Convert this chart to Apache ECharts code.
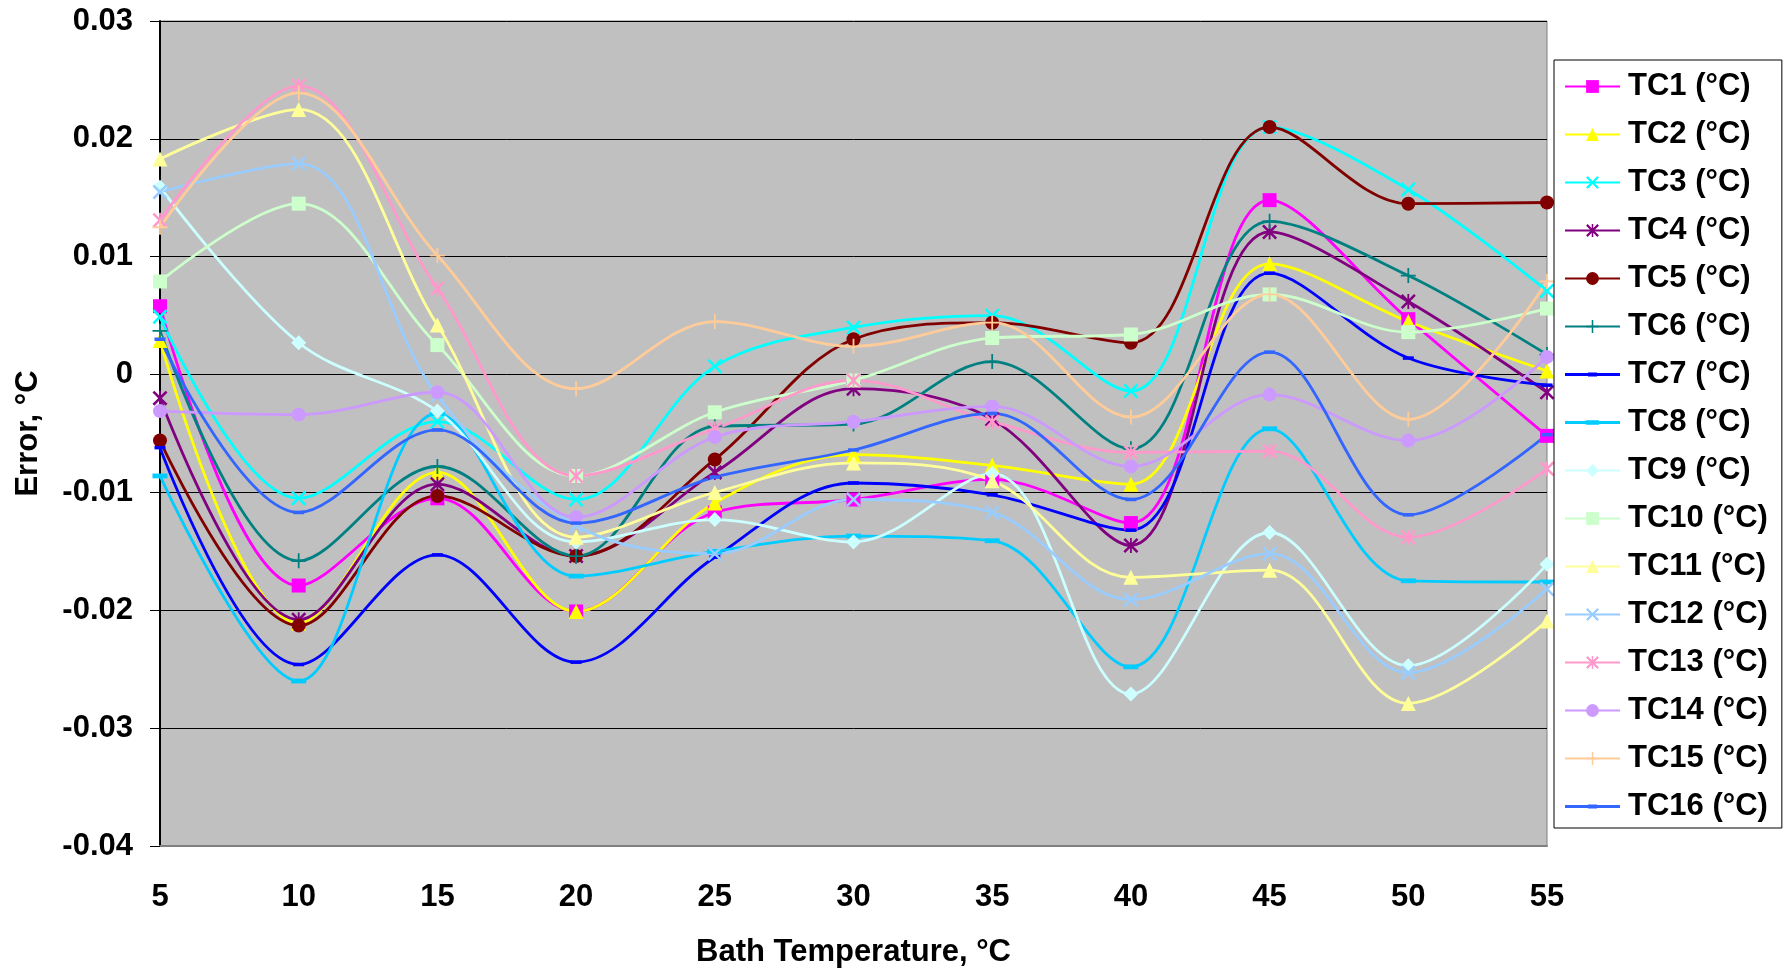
<!DOCTYPE html>
<html>
<head>
<meta charset="utf-8">
<script src="https://cdn.jsdelivr.net/npm/echarts@6/dist/echarts.min.js"></script>
<style>
html,body{margin:0;padding:0;background:#fff;}
#chart{width:1791px;height:973px;}
</style>
</head>
<body>
<div id="chart"></div>
<script>
const bathTemps = [5, 10, 15, 20, 25, 30, 35, 40, 45, 50, 55];
const seriesNames = ['TC1 (°C)','TC2 (°C)','TC3 (°C)','TC4 (°C)','TC5 (°C)','TC6 (°C)','TC7 (°C)','TC8 (°C)','TC9 (°C)','TC10 (°C)','TC11 (°C)','TC12 (°C)','TC13 (°C)','TC14 (°C)','TC15 (°C)','TC16 (°C)'];
const tc1  = [0.0058, -0.0179, -0.0105, -0.0201, -0.0117, -0.0106, -0.0089, -0.0126, 0.0148, 0.0047, -0.0052];
const tc2  = [0.0029, -0.0211, -0.0083, -0.0201, -0.0109, -0.0068, -0.0077, -0.0093, 0.0094, 0.0045, 0.0003];
const tc3  = [0.0049, -0.0105, -0.0040, -0.0106, 0.0007, 0.0040, 0.0050, -0.0014, 0.0210, 0.0157, 0.0071];
const tc4  = [-0.0020, -0.0208, -0.0093, -0.0154, -0.0083, -0.0012, -0.0038, -0.0145, 0.0121, 0.0062, -0.0015];
const tc5  = [-0.0056, -0.0213, -0.0103, -0.0154, -0.0072, 0.0030, 0.0044, 0.0027, 0.0210, 0.0145, 0.0146];
const tc6  = [0.0037, -0.0158, -0.0078, -0.0154, -0.0044, -0.0042, 0.0011, -0.0063, 0.0130, 0.0084, 0.0017];
const tc7  = [-0.0062, -0.0246, -0.0153, -0.0244, -0.0155, -0.0092, -0.0102, -0.0132, 0.0086, 0.0014, -0.0009];
const tc8  = [-0.0086, -0.0260, -0.0033, -0.0171, -0.0150, -0.0137, -0.0141, -0.0248, -0.0046, -0.0175, -0.0176];
const tc9  = [0.0159, 0.0027, -0.0031, -0.0142, -0.0123, -0.0142, -0.0084, -0.0271, -0.0134, -0.0247, -0.0161];
const tc10 = [0.0079, 0.0145, 0.0025, -0.0086, -0.0032, -0.0005, 0.0031, 0.0034, 0.0068, 0.0036, 0.0056];
const tc11 = [0.0183, 0.0225, 0.0042, -0.0138, -0.0100, -0.0075, -0.0090, -0.0172, -0.0166, -0.0279, -0.0209];
const tc12 = [0.0155, 0.0179, -0.0018, -0.0128, -0.0152, -0.0106, -0.0117, -0.0191, -0.0152, -0.0253, -0.0182];
const tc13 = [0.0131, 0.0245, 0.0073, -0.0086, -0.0046, -0.0005, -0.0040, -0.0066, -0.0065, -0.0138, -0.0080];
const tc14 = [-0.0031, -0.0034, -0.0015, -0.0121, -0.0053, -0.0040, -0.0027, -0.0078, -0.0017, -0.0056, 0.0015];
const tc15 = [0.0125, 0.0239, 0.0101, -0.0012, 0.0045, 0.0024, 0.0044, -0.0036, 0.0068, -0.0038, 0.0079];
const tc16 = [0.0030, -0.0117, -0.0047, -0.0126, -0.0087, -0.0064, -0.0033, -0.0106, 0.0019, -0.0119, -0.0051];
const yTicks = [-0.04, -0.03, -0.02, -0.01, 0, 0.01, 0.02, 0.03];

const allValues = [tc1,tc2,tc3,tc4,tc5,tc6,tc7,tc8,tc9,tc10,tc11,tc12,tc13,tc14,tc15,tc16];
const colors = ['#FF00FF','#FFFF00','#00FFFF','#800080','#800000','#008080','#0000FF','#00CCFF','#CCFFFF','#CCFFCC','#FFFF99','#99CCFF','#FF99CC','#CC99FF','#FFCC99','#3366FF'];

const X_PATH = 'path://M0,1.2 L1.2,0 L5,3.8 L8.8,0 L10,1.2 L6.2,5 L10,8.8 L8.8,10 L5,6.2 L1.2,10 L0,8.8 L3.8,5 Z';
const PLUS_PATH = 'path://M4.4,0 H5.6 V4.4 H10 V5.6 H5.6 V10 H4.4 V5.6 H0 V4.4 H4.4 Z';
const STAR_PATH = 'path://M0,1.2 L1.2,0 L5,3.8 L8.8,0 L10,1.2 L6.2,5 L10,8.8 L8.8,10 L5,6.2 L1.2,10 L0,8.8 L3.8,5 Z M4.4,0 H5.6 V10 H4.4 Z';
const DASH_PATH = 'path://M0,0 H10 V3.2 H0 Z';
const LEGEND_DASH_SMALL = 'path://M0,6.6 H55 V9.4 H0 Z M23,6 H32 V10 H23 Z';
const LEGEND_DASH_WIDE = 'path://M0,6.6 H55 V9.4 H0 Z M21,5.8 H34 V10.2 H21 Z';
// [symbol, size, keepAspect]
const symbols = [
  ['rect', 14, false], ['triangle', 15, false], [X_PATH, 15, false], [STAR_PATH, 15, false],
  ['circle', 14, false], [PLUS_PATH, 15, false], [DASH_PATH, 11, true], [DASH_PATH, 15, true],
  ['diamond', 15, false], ['rect', 14, false], ['triangle', 15, false], [X_PATH, 15, false],
  [STAR_PATH, 15, false], ['circle', 14, false], [PLUS_PATH, 15, false], [DASH_PATH, 11, true]
];
const legendIcons = { 6: LEGEND_DASH_SMALL, 7: LEGEND_DASH_WIDE, 15: LEGEND_DASH_SMALL };

const FONT = '"Liberation Sans", Arial, Helvetica, sans-serif';

const series = allValues.map((vals, i) => ({
  name: seriesNames[i],
  type: 'line',
  smooth: 0.35,
  data: bathTemps.map((t, j) => [t, vals[j]]),
  symbol: symbols[i][0],
  symbolSize: symbols[i][1],
  symbolKeepAspect: symbols[i][2],
  showAllSymbol: true,
  lineStyle: { color: colors[i], width: 2.8 },
  itemStyle: { color: colors[i] },
  emphasis: { disabled: true },
  animation: false
}));

const legendData = seriesNames.map((n, i) => legendIcons[i] ? { name: n, icon: legendIcons[i] } : { name: n });

const chart = echarts.init(document.getElementById('chart'), null, { renderer: 'canvas' });
chart.setOption({
  animation: false,
  backgroundColor: '#ffffff',
  grid: {
    left: 160, right: 244, top: 21, bottom: 126,
    show: true, backgroundColor: '#C0C0C0', borderColor: '#808080', borderWidth: 1
  },
  xAxis: {
    type: 'value', min: 5, max: 55, interval: 5,
    name: 'Bath Temperature, °C', nameLocation: 'middle', nameGap: 91,
    nameTextStyle: { fontFamily: FONT, fontWeight: 'bold', fontSize: 31, color: '#000' },
    axisLine: { show: true, onZero: false, lineStyle: { color: '#808080', width: 2 } },
    axisTick: { show: false },
    splitLine: { show: false },
    axisLabel: { fontFamily: FONT, fontWeight: 'bold', fontSize: 31, color: '#000', margin: 36 }
  },
  yAxis: {
    type: 'value', min: yTicks[0], max: yTicks[yTicks.length - 1], interval: 0.01,
    name: 'Error, °C', nameLocation: 'middle', nameGap: 116, nameRotate: 90,
    nameTextStyle: { fontFamily: FONT, fontWeight: 'bold', fontSize: 31, color: '#000' },
    axisLine: { show: true, lineStyle: { color: '#000', width: 2 } },
    axisTick: { show: true, length: 10, lineStyle: { color: '#000', width: 1 } },
    splitLine: { show: true, lineStyle: { color: '#000', width: 1 } },
    axisLabel: {
      fontFamily: FONT, fontWeight: 'bold', fontSize: 31, color: '#000', margin: 27,
      formatter: v => { const r = Math.round(v * 100) / 100; return r === 0 ? '0' : r.toFixed(2); }
    }
  },
  legend: {
    orient: 'vertical', left: 1554, top: 60,
    width: 227,
    padding: [11, 14, 6, 10],
    itemWidth: 55, itemHeight: 16, itemGap: 17,
    backgroundColor: '#ffffff', borderColor: '#000000', borderWidth: 1, borderRadius: 0,
    textStyle: { fontFamily: FONT, fontWeight: 'bold', fontSize: 31, lineHeight: 31, color: '#000', padding: [0, 0, 0, 3] },
    data: legendData
  },
  series: series
});
</script>
</body>
</html>
